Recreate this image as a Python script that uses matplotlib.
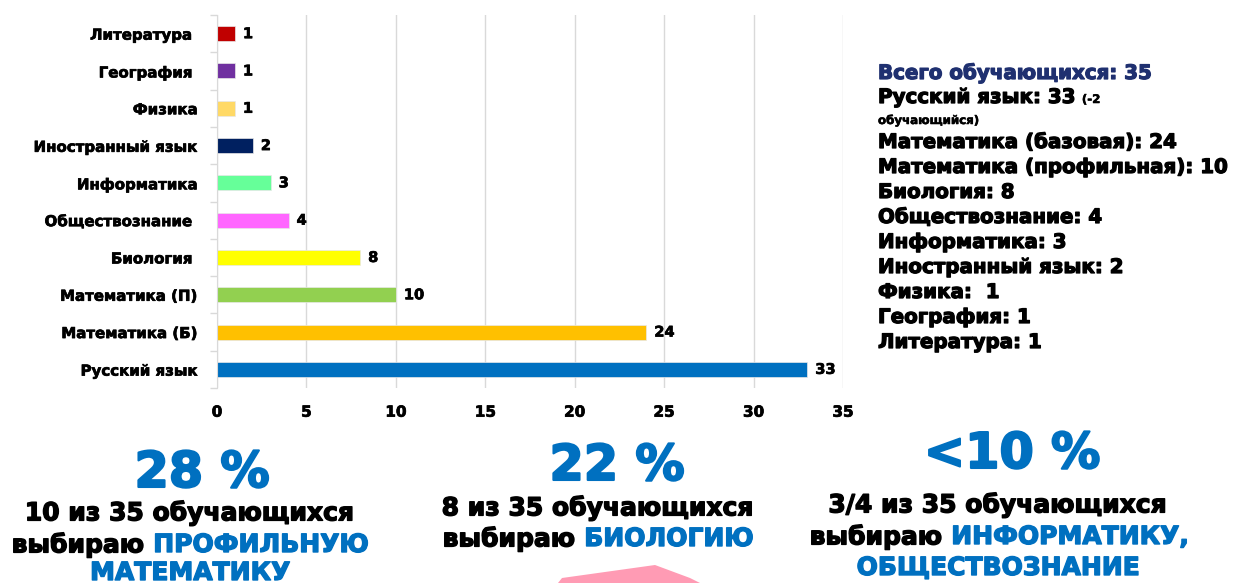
import matplotlib
matplotlib.use("Agg")
import matplotlib.pyplot as plt
import matplotlib.patheffects as pe
from matplotlib.patches import Polygon

plt.rcParams['font.family'] = ['DejaVu Sans']
plt.rcParams['font.weight'] = 'bold'

# данные диаграммы (снизу вверх)
subjects = ["Русский язык", "Математика (Б)", "Математика (П)", "Биология ",
            "Обществознание ", "Информатика", "Иностранный язык", "Физика",
            "География ", "Литература "]
counts = [33, 24, 10, 8, 4, 3, 2, 1, 1, 1]
colors = ["#0070C0", "#FFC000", "#92D050", "#FFFF00", "#FF66FF",
          "#66FF99", "#002060", "#FFD966", "#7030A0", "#C00000"]
x_ticks = [0, 5, 10, 15, 20, 25, 30, 35]

total_title = "Всего обучающихся: 35"
summary_lines = ["Русский язык: 33", "Математика (базовая): 24",
                 "Математика (профильная): 10", "Биология: 8",
                 "Обществознание: 4", "Информатика: 3", "Иностранный язык: 2",
                 "Физика:  1", "География: 1", "Литература: 1"]

percents = ["28 %", "22 %", "<10 %"]

BLUE = "#0070C0"
W, H = 1237, 583


def heavy(c, lw=0.7):
    return [pe.withStroke(linewidth=lw, foreground=c)]


fig = plt.figure(figsize=(W / 100, H / 100), dpi=100)

ax = fig.add_axes([217 / W, 1 - 388 / H, (843 - 217) / W, (388 - 15) / H])
y = range(len(subjects))
ax.barh(y, counts, height=0.4, color=colors, edgecolor="#E8E8E8", linewidth=0.5, zorder=3)
for i, v in enumerate(counts):
    ax.text(v + 0.45, i, str(v), va="center", ha="left", fontsize=10.5,
            fontweight="bold", path_effects=heavy("black", 0.5))

ax.set_xlim(0, 35)
ax.set_ylim(-0.5, len(subjects) - 0.5)
ax.set_xticks(x_ticks)
ax.set_xticklabels([str(t) for t in x_ticks], fontsize=11, fontweight="bold")
ax.set_yticks(list(y))
ax.set_yticklabels(subjects, fontsize=10.8, fontweight="bold")
for lab in ax.get_xticklabels() + ax.get_yticklabels():
    lab.set_path_effects(heavy("black", 0.5))
ax.set_yticks([i - 0.5 for i in range(len(subjects) + 1)], minor=True)
ax.tick_params(axis="y", which="major", length=0, pad=14)
ax.tick_params(axis="y", which="minor", length=5, color="#D9D9D9", width=1)
ax.tick_params(axis="x", length=0, pad=12)
ax.grid(axis="x", color="#D9D9D9", linewidth=1, zorder=0)
for s in ["top", "right", "bottom"]:
    ax.spines[s].set_visible(False)
ax.spines["left"].set_color("#D9D9D9")
ax.spines["left"].set_zorder(4)


def px(x, yy):
    return x / W, 1 - yy / H


# правый блок
fig.text(*px(878, 79), total_title, color="#1F3070", fontsize=14.3, fontweight="bold",
         va="baseline", path_effects=heavy("#1F3070", 0.9))
base = [103, 148, 173, 198, 223, 248, 273, 298, 323, 348]
for line, b in zip(summary_lines, base):
    fig.text(*px(878, b), line, color="black", fontsize=14.3, fontweight="bold",
             va="baseline", path_effects=heavy("black", 0.9))
fig.canvas.draw()
r = fig.canvas.get_renderer()
bb = fig.texts[1].get_window_extent(r)
fig.text((bb.x1 + 6) / W, px(0, 103)[1], "(-2", fontsize=8.5, fontweight="bold",
         va="baseline", path_effects=heavy("black", 0.4))
fig.text(*px(878, 124), "обучающийся)", fontsize=8.5, fontweight="bold",
         va="baseline", path_effects=heavy("black", 0.4))


def mixed_line(cx, cy, parts, size):
    # строка из нескольких цветных частей, центрированная по cx
    objs = [fig.text(0, px(0, cy)[1], s, color=c, fontsize=size, fontweight="bold",
                     va="center", path_effects=heavy(c, 1.0))
            for s, c in parts]
    fig.canvas.draw()
    widths = [o.get_window_extent(r).width for o in objs]
    x0 = cx - sum(widths) / 2
    for o, w in zip(objs, widths):
        o.set_x(x0 / W)
        x0 += w


# нижние подписи
for p, (cx, cy) in zip(percents, [(202, 473), (617, 466), (1012, 454)]):
    fig.text(*px(cx, cy), p, color=BLUE, fontsize=35.5, fontweight="bold",
             ha="center", va="center", path_effects=heavy(BLUE, 1.5))

mixed_line(190, 513, [("10 из 35 обучающихся", "black")], 18)
mixed_line(190, 545, [("выбираю ", "black"), ("ПРОФИЛЬНУЮ", BLUE)], 18)
mixed_line(190, 573, [("МАТЕМАТИКУ", BLUE)], 18)

mixed_line(598, 508, [("8 из 35 обучающихся", "black")], 18)
mixed_line(598, 539, [("выбираю ", "black"), ("БИОЛОГИЮ", BLUE)], 18)

mixed_line(998, 505, [("3/4 из 35 обучающихся", "black")], 18)
mixed_line(999, 537, [("выбираю ", "black"), ("ИНФОРМАТИКУ,", BLUE)], 18)
mixed_line(998, 568, [("ОБЩЕСТВОЗНАНИЕ", BLUE)], 18)

# розовая фигура внизу
shape = Polygon([px(558, 583), px(562, 578), px(655, 565), px(690, 578), px(700, 583)],
                closed=True, transform=fig.transFigure, facecolor="#FF9BB4", edgecolor="none")
fig.patches.append(shape)

fig.savefig("out.png", dpi=100)
